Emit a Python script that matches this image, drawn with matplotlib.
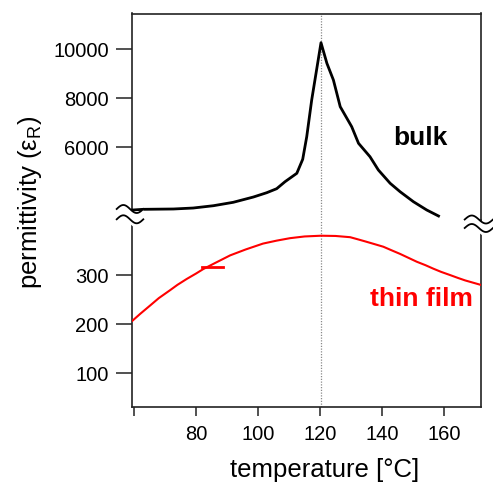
import matplotlib
matplotlib.use('Agg')
import matplotlib.pyplot as plt
import numpy as np
from matplotlib.lines import Line2D
from matplotlib.patches import Polygon

plt.rcParams['font.family'] = ['Liberation Sans', 'DejaVu Sans']
plt.rcParams['mathtext.fontset'] = 'custom'
plt.rcParams['mathtext.rm'] = 'Liberation Sans'

# ---------------- data ----------------
bulk_T = [59.5, 63.0, 72.7, 79.1, 85.6, 92.0, 98.5, 102.8, 106.0, 108.7, 112.5,
          114.4, 115.7, 117.3, 120.3, 122.2, 124.3, 126.5, 130.2, 132.4, 136.1,
          138.8, 142.6, 145.8, 150.1, 154.4, 158.2]
bulk_eps = [3441, 3469, 3482, 3522, 3616, 3755, 3971, 4147, 4310, 4596, 4939,
            5510, 6433, 7931, 10269, 9429, 8747, 7657, 6841, 6163, 5616,
            5073, 4531, 4188, 3780, 3441, 3196]

film_T = [59.5, 62.0, 65.2, 68.0, 71.6, 74.0, 77.0, 80.0, 82.3, 86.0, 91.0,
          96.0, 101.6, 106.0, 110.3, 115.0, 120.3, 125.0, 129.7, 132.0, 134.8,
          137.5, 140.4, 143.0, 145.8, 148.5, 151.2, 154.0, 156.5, 159.0, 161.9,
          164.5, 166.8, 169.3, 171.8]
film_eps = [207, 221, 238, 253, 269, 280, 292, 303, 312, 324, 340,
            352, 364, 370, 375, 378.5, 380, 379.5, 377, 373, 368,
            363, 357.6, 350.5, 343, 335, 327, 320, 313, 306.5, 300,
            294, 289, 284.5, 280]

marker_T = [81.8, 88.6]
marker_eps = [317, 317]

curie_T = 120.3

x_ticks = [60, 80, 100, 120, 140, 160]
x_tick_labels = ['', '80', '100', '120', '140', '160']
bulk_yticks = [6000, 8000, 10000]
bulk_ytick_labels = ['6000', '8000', '10000']
film_yticks = [100, 200, 300]
film_ytick_labels = ['100', '200', '300']

# ---------------- layout ----------------
W, H = 493, 482
fig = plt.figure(figsize=(W / 100, H / 100), dpi=100)


def fx(px):
    return px / W


def fy(py):
    return 1 - py / H


left, right = fx(132.3), fx(480.7)
y_split = 220
ax_top = fig.add_axes([left, fy(y_split), right - left, fy(13.5) - fy(y_split)])
ax_bot = fig.add_axes([left, fy(406.7), right - left, fy(y_split) - fy(406.7)])

spine_col = '#222222'
for ax in (ax_top, ax_bot):
    ax.set_xlim(59.45, 171.8)
    for s in ax.spines.values():
        s.set_color(spine_col)
        s.set_linewidth(1.2)
    ax.axvline(curie_T, color='#8a8a8a', lw=0.9, ls=(0, (1, 1.2)), zorder=1)
    ax.tick_params(axis='y', direction='out', length=11.5, width=1.1,
                   pad=5.5, labelsize=14.5, color=spine_col, right=False)

ax_top.set_ylim(3033, 11461)
ax_bot.set_ylim(32, 412)

ax_top.spines['bottom'].set_visible(False)
ax_bot.spines['top'].set_visible(False)
ax_top.tick_params(axis='x', which='both', bottom=False, labelbottom=False,
                   top=False)
ax_bot.set_xticks(x_ticks)
ax_bot.set_xticklabels(x_tick_labels)
ax_bot.tick_params(axis='x', direction='out', length=6.5, width=1.1, pad=7,
                   labelsize=14.5, color=spine_col, top=False)

ax_top.set_yticks(bulk_yticks)
ax_top.set_yticklabels(bulk_ytick_labels)
ax_bot.set_yticks(film_yticks)
ax_bot.set_yticklabels(film_ytick_labels)

ax_top.plot(bulk_T, bulk_eps, color='black', lw=2.0, clip_on=False, zorder=3,
            solid_joinstyle='round')
ax_bot.plot(film_T, film_eps, color='#ff0000', lw=1.5, zorder=3,
            solid_joinstyle='round')
ax_bot.plot(marker_T, marker_eps, color='#ff0000', lw=2.0, zorder=3)

fig.text(fx(420), fy(145), 'bulk', fontsize=19, fontweight='bold',
         ha='center', va='baseline', color='black')
fig.text(fx(421), fy(306), 'thin film', fontsize=19, fontweight='bold',
         ha='center', va='baseline', color='#ff0000')

fig.text(fx(324.5), fy(477), 'temperature [°C]', fontsize=18.5,
         ha='center', va='baseline')
fig.text(fx(30), fy(202), 'permittivity (ε$_\\mathregular{R}$)', fontsize=18.5,
         ha='center', va='center', rotation=90)


# ---------------- axis-break marks ----------------
def wave(x0, x1, yc, A, n=40):
    t = np.linspace(0, 1, n)
    xs = x0 + (x1 - x0) * t
    ys = yc - A * np.sin(2 * np.pi * t)
    return xs, ys


for (x0, x1, y_up, y_lo) in [(116.7, 143.3, 209.0, 219.3), (464.7, 493.0, 219.5, 228.0)]:
    xu, yu = wave(x0, x1, y_up, 4.0)
    xl, yl = wave(x0, x1, y_lo, 4.0)
    poly_x = np.concatenate([xu, xl[::-1]])
    poly_y = np.concatenate([yu, (yl + 4.5)[::-1]])
    fig.add_artist(Polygon(np.column_stack([fx(poly_x), fy(poly_y)]),
                           closed=True, facecolor='white', edgecolor='none',
                           transform=fig.transFigure, zorder=5))
    for xs, ys in ((xu, yu), (xl, yl)):
        fig.add_artist(Line2D(fx(xs), fy(ys), color='black', lw=1.3,
                              transform=fig.transFigure, zorder=6))

fig.savefig('out.png', dpi=100)
